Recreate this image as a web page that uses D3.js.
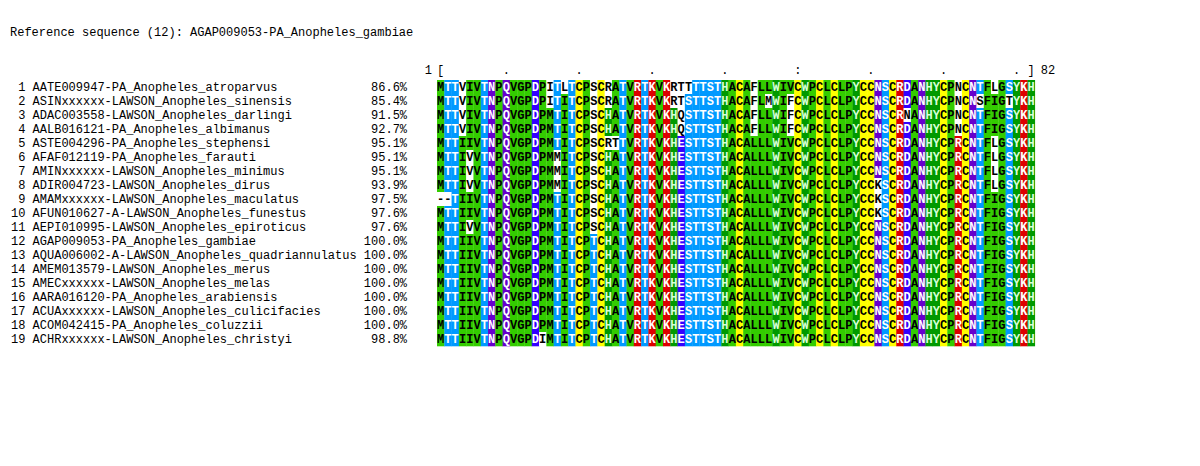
<!DOCTYPE html>
<html><head><meta charset="utf-8">
<script src="https://cdn.jsdelivr.net/npm/d3@7"></script>
<style>body{margin:0;background:#fff}svg{display:block}text{font-family:"Liberation Mono","DejaVu Sans Mono",monospace;font-size:12px}</style>
</head><body><svg id="c" width="1200" height="466"></svg>
<script>
const title = "Reference sequence (12): AGAP009053-PA_Anopheles_gambiae";
const refIndex = 11;
const names = ["AATE009947-PA_Anopheles_atroparvus","ASINxxxxxx-LAWSON_Anopheles_sinensis","ADAC003558-LAWSON_Anopheles_darlingi","AALB016121-PA_Anopheles_albimanus","ASTE004296-PA_Anopheles_stephensi","AFAF012119-PA_Anopheles_farauti","AMINxxxxxx-LAWSON_Anopheles_minimus","ADIR004723-LAWSON_Anopheles_dirus","AMAMxxxxxx-LAWSON_Anopheles_maculatus","AFUN010627-A-LAWSON_Anopheles_funestus","AEPI010995-LAWSON_Anopheles_epiroticus","AGAP009053-PA_Anopheles_gambiae","AQUA006002-A-LAWSON_Anopheles_quadriannulatus","AMEM013579-LAWSON_Anopheles_merus","AMECxxxxxx-LAWSON_Anopheles_melas","AARA016120-PA_Anopheles_arabiensis","ACUAxxxxxx-LAWSON_Anopheles_culicifacies","ACOM042415-PA_Anopheles_coluzzii","ACHRxxxxxx-LAWSON_Anopheles_christyi"];
const identity = ["86.6%","85.4%","91.5%","92.7%","95.1%","95.1%","95.1%","93.9%","97.5%","97.6%","97.6%","100.0%","100.0%","100.0%","100.0%","100.0%","100.0%","100.0%","98.8%"];
const sequences = [
"MTTVIVTNPQVGPDPITLTCPSCRATVRTKVKRTTTTSTHACAFLLWIVCWPCLCLPYCCNSCRDANHYCPNCNTFLGSYKH",
"MTTVIVTNPQVGPDPITITCPSCRATVRTKVKRTSTTSTHACAFLMWIFCWPCLCLPYCCNSCRDANHYCPNCNSFIGTYKH",
"MTTVIVTNPQVGPDPMTITCPSCHATVRTKVKHQSTTSTHACAFLLWIFCWPCLCLPYCCNSCRNANHYCPNCNTFIGSYKH",
"MTTVIVTNPQVGPDPMTITCPSCHATVRTKVKHQSTTSTHACAFLLWIFCWPCLCLPYCCNSCRDANHYCPNCNTFIGSYKH",
"MTTIIVTNPQVGPDPMTITCPSCRTTVRTKVKHESTTSTHACALLLWIVCWPCLCLPYCCNSCRDANHYCPRCNTFLGSYKH",
"MTTIVVTNPQVGPDPMMITCPSCHATVRTKVKHESTTSTHACALLLWIVCWPCLCLPYCCNSCRDANHYCPRCNTFLGSYKH",
"MTTIVVTNPQVGPDPMMITCPSCHATVRTKVKHESTTSTHACALLLWIVCWPCLCLPYCCNSCRDANHYCPRCNTFLGSYKH",
"MTTIVVTNPQVGPDPMMITCPSCHATVRTKVKHESTTSTHACALLLWIVCWPCLCLPYCCKSCRDANHYCPRCNTFLGSYKH",
"--TIIVTNPQVGPDPMTITCPSCHATVRTKVKHESTTSTHACALLLWIVCWPCLCLPYCCKSCRDANHYCPRCNTFIGSYKH",
"MTTIIVTNPQVGPDPMTITCPSCHATVRTKVKHESTTSTHACALLLWIVCWPCLCLPYCCKSCRDANHYCPRCNTFIGSYKH",
"MTTIVVTNPQVGPDPMTITCPSCHATVRTKVKHESTTSTHACALLLWIVCWPCLCLPYCCNSCRDANHYCPRCNTFIGSYKH",
"MTTIIVTNPQVGPDPMTITCPTCHATVRTKVKHESTTSTHACALLLWIVCWPCLCLPYCCNSCRDANHYCPRCNTFIGSYKH",
"MTTIIVTNPQVGPDPMTITCPTCHATVRTKVKHESTTSTHACALLLWIVCWPCLCLPYCCNSCRDANHYCPRCNTFIGSYKH",
"MTTIIVTNPQVGPDPMTITCPTCHATVRTKVKHESTTSTHACALLLWIVCWPCLCLPYCCNSCRDANHYCPRCNTFIGSYKH",
"MTTIIVTNPQVGPDPMTITCPTCHATVRTKVKHESTTSTHACALLLWIVCWPCLCLPYCCNSCRDANHYCPRCNTFIGSYKH",
"MTTIIVTNPQVGPDPMTITCPTCHATVRTKVKHESTTSTHACALLLWIVCWPCLCLPYCCNSCRDANHYCPRCNTFIGSYKH",
"MTTIIVTNPQVGPDPMTITCPTCHATVRTKVKHESTTSTHACALLLWIVCWPCLCLPYCCNSCRDANHYCPRCNTFIGSYKH",
"MTTIIVTNPQVGPDPMTITCPTCHATVRTKVKHESTTSTHACALLLWIVCWPCLCLPYCCNSCRDANHYCPRCNTFIGSYKH",
"MTTIIVTNPQVGPDIMTITCPTCHATVRTKVKHESTTSTHACALLLWIVCWPCLCLPYCCNSCRDANHYCPRCNTFIGSYKH"];
const rulerMarks = ["[",".",".",".",".",":",".",".",".","]"];
const rulerCols = [1,10,20,30,40,50,60,70,80,82];

const groupBg = {AVILMFGP:"#33cc00", HWY:"#009900", ST:"#0099ff", NQ:"#6600cc", DE:"#3300ff", RK:"#dd0000", C:"#ffff00"};
const groupFg = {AVILMFGP:"#000000", HWY:"#d8ffd8", ST:"#ffffff", NQ:"#ffffff", DE:"#ffffff", RK:"#ffffff", C:"#000000"};
function grp(r){for(const k in groupBg) if(k.includes(r)) return k; return null;}

const svg = d3.select("#c");
const nCol = sequences[0].length;
const x = d3.scaleBand().domain(d3.range(1,nCol+1)).range([437,437+nCol*7.29]).padding(0);
const y = d3.scaleBand().domain(d3.range(names.length)).range([80,80+names.length*14]).padding(0);

svg.append("text").attr("x",10).attr("y",36).attr("fill","#000").text(title);

const ref = sequences[refIndex];
const rows = svg.selectAll("g.row").data(sequences).join("g").attr("class","row")
  .attr("transform",(d,i)=>`translate(0,${y(i)})`);
rows.append("text").attr("x",11).attr("y",y.bandwidth()-3.5).attr("xml:space","preserve").style("white-space","pre")
  .text((d,i)=>String(i+1).padStart(2)+" "+names[i].padEnd(45)+" "+identity[i].padStart(6));
rows.each(function(seq){
  const g=d3.select(this);
  const cells=seq.split("").map((r,j)=>{const k=(r!=="-"&&r===ref[j])?grp(r):null;return {r,col:j+1,k};});
  g.selectAll("rect").data(cells).join("rect").attr("x",d=>x(d.col)).attr("y",0)
    .attr("width",x.bandwidth()+0.3).attr("height",y.bandwidth()+0.3)
    .attr("fill",d=>d.k?groupBg[d.k]:"#fff");
  g.selectAll("text.res").data(cells).join("text").attr("class","res")
    .attr("x",d=>x(d.col)+x.bandwidth()/2).attr("y",y.bandwidth()-3.5).attr("text-anchor","middle")
    .attr("font-weight","bold").attr("fill",d=>d.k?groupFg[d.k]:"#000").text(d=>d.r);
});

const ry=74;
svg.append("text").attr("x",x(1)-5).attr("y",ry).attr("text-anchor","end").text("1");
svg.selectAll("text.rul").data(rulerCols).join("text").attr("class","rul")
  .attr("x",d=>x(d)+x.bandwidth()/2).attr("y",ry).attr("text-anchor","middle").text((d,i)=>rulerMarks[i]);
svg.append("text").attr("x",x(nCol)+x.bandwidth()+6).attr("y",ry).text(String(nCol));
</script></body></html>
